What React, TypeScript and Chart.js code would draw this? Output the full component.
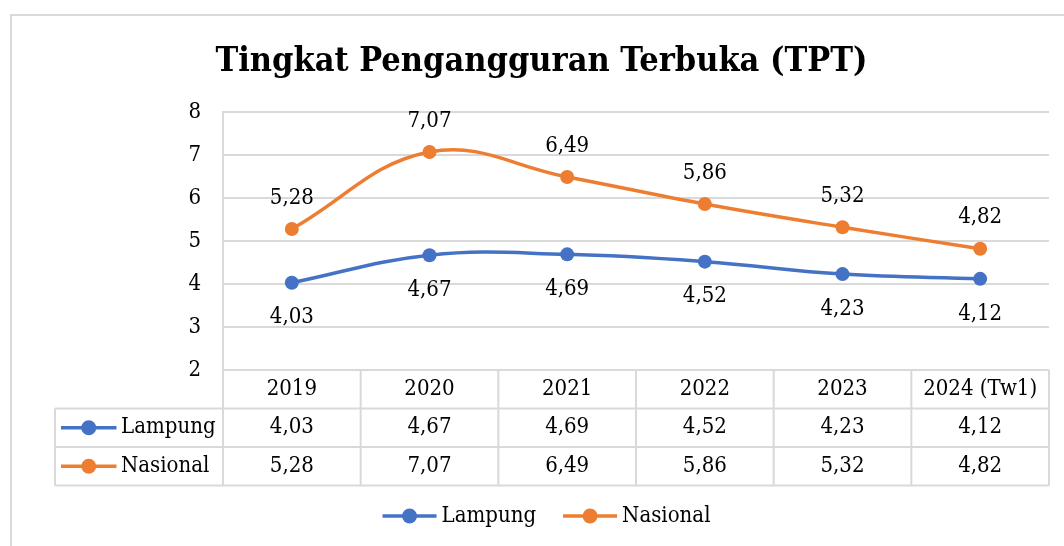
import React, { useEffect, useRef } from 'react';
import { Chart, registerables } from 'chart.js';

Chart.register(...registerables);

const title = 'Tingkat Pengangguran Terbuka (TPT)';
const categories = ['2019', '2020', '2021', '2022', '2023', '2024 (Tw1)'];
const seriesNames = ['Lampung', 'Nasional'];
const lampung = [4.03, 4.67, 4.69, 4.52, 4.23, 4.12];
const nasional = [5.28, 7.07, 6.49, 5.86, 5.32, 4.82];
const yTicks = [2, 3, 4, 5, 6, 7, 8];

const FONT = '"DejaVu Serif Condensed", "DejaVu Serif", serif';
const BLUE = '#4472C4';
const ORANGE = '#ED7D31';
const GRID = '#D9D9D9';
const COLORS = [BLUE, ORANGE];

const fmt = (v: number) => v.toFixed(2).replace('.', ',');

function drawMarker(ctx: CanvasRenderingContext2D, x0: number, x1: number, y: number, color: string) {
  ctx.strokeStyle = color;
  ctx.lineWidth = 3.5;
  ctx.beginPath();
  ctx.moveTo(x0, y);
  ctx.lineTo(x1, y);
  ctx.stroke();
  ctx.fillStyle = color;
  ctx.beginPath();
  ctx.arc((x0 + x1) / 2, y, 7.5, 0, Math.PI * 2);
  ctx.fill();
}

const decor = {
  id: 'decor',
  afterDraw(chart: any) {
    const ctx: CanvasRenderingContext2D = chart.ctx;
    const xs = chart.scales.x;
    const area = chart.chartArea;
    ctx.save();

    // outer frame
    ctx.strokeStyle = GRID;
    ctx.lineWidth = 2;
    ctx.beginPath();
    ctx.moveTo(11, 546);
    ctx.lineTo(11, 15);
    ctx.lineTo(1064, 15);
    ctx.stroke();

    // title
    ctx.fillStyle = '#000';
    ctx.font = `bold 34px ${FONT}`;
    ctx.textAlign = 'center';
    ctx.textBaseline = 'alphabetic';
    ctx.fillText(title, 541.5, 71);

    // data labels
    ctx.font = `22px ${FONT}`;
    ctx.textBaseline = 'middle';
    chart.data.datasets.forEach((ds: any, i: number) => {
      const meta = chart.getDatasetMeta(i);
      meta.data.forEach((pt: any, j: number) => {
        const off = i === 0 ? 35 : -31;
        ctx.fillStyle = '#000';
        ctx.fillText(fmt(ds.data[j]), pt.x, pt.y + off);
      });
    });

    // data table
    const left = area.left;
    const right = area.right;
    const bottom = area.bottom;
    const rowH = 38.5;
    const tableLeft = 55;
    const r1 = bottom + rowH;
    const r2 = r1 + rowH;
    const r3 = r2 + rowH;
    ctx.strokeStyle = GRID;
    ctx.lineWidth = 2;
    ctx.beginPath();
    [r1, r2, r3].forEach((y) => {
      ctx.moveTo(tableLeft, y);
      ctx.lineTo(right, y);
    });
    ctx.moveTo(tableLeft, r1);
    ctx.lineTo(tableLeft, r3);
    const n = categories.length;
    const w = (right - left) / n;
    for (let k = 0; k <= n; k++) {
      const x = left + k * w;
      ctx.moveTo(x, k === 0 ? bottom : bottom);
      ctx.lineTo(x, r3);
    }
    ctx.stroke();

    const rows = [lampung, nasional];
    rows.forEach((vals, i) => {
      const cy = r1 + rowH * (i + 0.5);
      drawMarker(ctx, 61, 116.5, cy, COLORS[i]);
      ctx.fillStyle = '#000';
      ctx.font = `22px ${FONT}`;
      ctx.textAlign = 'left';
      ctx.textBaseline = 'middle';
      ctx.fillText(seriesNames[i], 121, cy);
      ctx.textAlign = 'center';
      vals.forEach((v, j) => {
        ctx.fillText(fmt(v), xs.getPixelForValue(j), cy);
      });
    });

    // legend
    ctx.font = `22px ${FONT}`;
    const lineW = 54;
    const gap = 5;
    const itemGap = 27;
    const widths = seriesNames.map((s) => lineW + gap + ctx.measureText(s).width);
    const total = widths[0] + itemGap + widths[1];
    let x = 546.5 - total / 2;
    const ly = 516;
    seriesNames.forEach((s, i) => {
      drawMarker(ctx, x, x + lineW, ly, COLORS[i]);
      ctx.fillStyle = '#000';
      ctx.textAlign = 'left';
      ctx.textBaseline = 'middle';
      ctx.fillText(s, x + lineW + gap, ly);
      x += widths[i] + itemGap;
    });

    ctx.restore();
  },
};

export default function App() {
  const ref = useRef<HTMLCanvasElement | null>(null);
  useEffect(() => {
    if (!ref.current) return;
    const chart = new Chart(ref.current, {
      type: 'line',
      data: {
        labels: categories,
        datasets: [
          {
            label: seriesNames[0],
            data: lampung,
            borderColor: BLUE,
            backgroundColor: BLUE,
            borderWidth: 3.5,
            pointRadius: 7,
            pointBorderWidth: 0,
            pointBackgroundColor: BLUE,
            tension: 0.4,
          },
          {
            label: seriesNames[1],
            data: nasional,
            borderColor: ORANGE,
            backgroundColor: ORANGE,
            borderWidth: 3.5,
            pointRadius: 7,
            pointBorderWidth: 0,
            pointBackgroundColor: ORANGE,
            tension: 0.4,
          },
        ],
      },
      options: {
        responsive: false,
        animation: false,
        layout: { padding: { top: 112, left: 0, right: 15, bottom: 0 } },
        plugins: {
          legend: { display: false },
          title: { display: false },
          tooltip: { enabled: false },
        },
        scales: {
          x: {
            type: 'category',
            offset: true,
            grid: { display: false, drawTicks: false },
            border: { display: false },
            ticks: {
              color: '#000',
              font: { family: FONT, size: 22 },
              padding: 6,
              maxRotation: 0,
              autoSkip: false,
            },
            afterFit: (s: any) => {
              s.height = 176;
            },
          },
          y: {
            min: 2,
            max: 8,
            afterBuildTicks: (s: any) => {
              s.ticks = yTicks.map((v) => ({ value: v }));
            },
            grid: { color: GRID, lineWidth: 2, drawTicks: false },
            border: { display: true, color: GRID, width: 2 },
            ticks: {
              color: '#000',
              font: { family: FONT, size: 22 },
              padding: 22,
            },
            afterFit: (s: any) => {
              s.width = 223;
            },
          },
        },
      },
      plugins: [decor],
    } as any);
    return () => chart.destroy();
  }, []);
  return (
    <div style={{ position: 'fixed', left: 0, top: 0, width: 1064, height: 546, background: '#fff' }}>
      <canvas ref={ref} width={1064} height={546} style={{ display: 'block' }} />
    </div>
  );
}
